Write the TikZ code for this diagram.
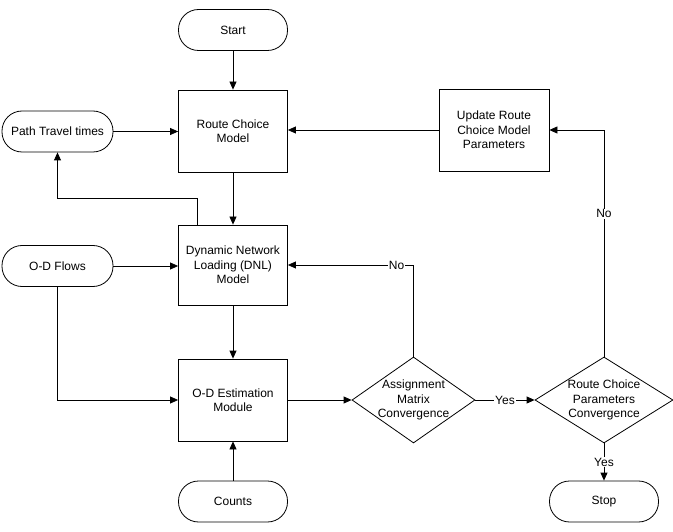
\documentclass[tikz,border=0pt]{standalone}
\usepackage{fontspec}
\setmainfont{Liberation Sans}
\usetikzlibrary{shapes.geometric,arrows.meta}
\begin{document}
\begin{tikzpicture}[x=1pt,y=-1pt,
  every node/.style={font=\fontsize{12}{14.5}\selectfont, align=center},
  term/.style={draw, rounded corners=20pt, minimum width=109pt, minimum height=41pt, inner sep=0pt},
  proc/.style={draw, minimum width=109pt, minimum height=82pt, inner sep=0pt},
  dec/.style={draw, diamond, inner sep=0pt},
  lbl/.style={fill=white, inner sep=1pt},
  arr/.style={-{Triangle[length=8pt,width=7pt]}},
  line width=0.8pt]
\useasboundingbox (0,0) rectangle (673,532);
\node[term] (start) at (233,30) {Start};
\node[proc] (rcm) at (233,131) {Route Choice\\Model};
\node[term, minimum width=111pt] (ptt) at (57.5,131.5) {Path Travel times};
\node[proc, minimum height=80pt] (dnl) at (233,265) {Dynamic Network\\Loading (DNL)\\Model};
\node[term, minimum width=111pt] (odf) at (57.5,266) {O-D Flows};
\node[proc] (ode) at (233,400) {O-D Estimation\\Module};
\node[term] (cnt) at (233,501.5) {Counts};
\node[dec, minimum width=123pt, minimum height=86pt] (asg) at (413.5,400) {};
\node at (asg) {Assignment\\Matrix\\Convergence};
\node[dec, minimum width=138pt, minimum height=86pt] (rcp) at (604,400) {};
\node at (rcp) {Route Choice\\Parameters\\Convergence};
\node[term] (stop) at (604,501.5) {Stop};
\node[proc, minimum width=110pt] (upd) at (494,130) {Update Route\\Choice Model\\Parameters};

\coordinate (k1) at (197,198);
\coordinate (c1) at (asg.north |- dnl.east);
\coordinate (c2) at (rcp.north |- upd.east);

\draw[arr] (start.south) -- (rcm.north);
\draw[arr] (ptt.east) -- (ptt.east -| rcm.west);
\draw[arr] (upd.west) -- (upd.west -| rcm.east);
\draw[arr] (rcm.south) -- (dnl.north);
\draw[arr] (dnl.north -| k1) -- (k1) -| (ptt.south);
\draw[arr] (odf.east) -- (odf.east -| dnl.west);
\draw[arr] (odf.south) -- (odf.south |- ode.west) -- (ode.west);
\draw[arr] (dnl.south) -- (ode.north);
\draw[arr] (cnt.north) -- (ode.south);
\draw[arr] (ode.east) -- (asg.west);
\draw[arr] (asg.east) -- node[lbl]{Yes} (rcp.west);
\draw[arr] (asg.north) -- (c1) -- node[lbl, pos=0.135]{No} (dnl.east);
\draw[arr] (rcp.north) -- node[lbl, pos=0.63]{No} (c2) -- (upd.east);
\draw[arr] (rcp.south) -- node[lbl]{Yes} (stop.north);
\end{tikzpicture}
\end{document}
